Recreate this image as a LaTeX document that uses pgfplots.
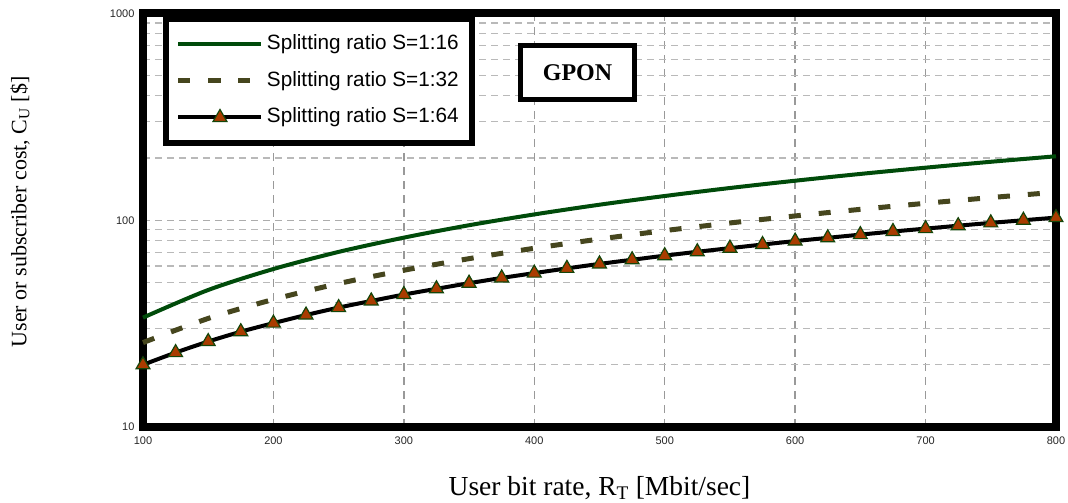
\documentclass[border=0pt]{standalone}
\usepackage{fontspec}
\setmainfont{Liberation Serif}
\newfontfamily\arial{Liberation Sans}
\usepackage{pgfplots}
\pgfplotsset{compat=1.18}
\definecolor{cgreen}{RGB}{0,75,10}
\definecolor{colive}{RGB}{70,70,30}
\definecolor{cbrown}{RGB}{170,60,0}
\definecolor{cedge}{RGB}{20,70,10}
\begin{document}
\begin{tikzpicture}
\path[use as bounding box] (-143pt,-76pt) rectangle (925pt,427pt);
\begin{axis}[
  scale only axis, width=913pt, height=413.5pt,
  ymode=log, xmin=100, xmax=800, ymin=10, ymax=1000,
  xtick={100,200,...,800},
  ytick={10,100,1000}, yticklabels={10,100,1000},
  minor ytick={20,30,40,50,60,70,80,90,200,300,400,500,600,700,800,900},
  major tick length=0pt, minor tick length=0pt,
  xmajorgrids, ymajorgrids, yminorgrids,
  major x grid style={draw=gray!80, line width=1.4pt, dash pattern=on 8pt off 6pt},
  major y grid style={draw=gray!65, line width=1.4pt, dash pattern=on 7pt off 5pt},
  minor y grid style={draw=gray!55, line width=1.4pt, dash pattern=on 7pt off 5pt},
  axis line style={line width=8pt, line cap=rect, line join=miter},
  /pgf/number format/assume math mode=true,
  tick label style={font=\arial\fontsize{11}{13}\selectfont, text=black!85},
  xticklabel style={yshift=-6pt},
  yticklabel style={xshift=-5pt},
  clip=false,
  xlabel={User bit rate, R\textsubscript{T} [Mbit/sec]},
  ylabel={User or subscriber cost, C\textsubscript{U} [\$]},
  xlabel style={at={(axis description cs:0.5,-0.1475)}, anchor=center, font=\fontsize{27.5}{32}\selectfont},
  ylabel style={at={(axis description cs:-0.1347,0.52)}, anchor=center, font=\fontsize{22}{26}\selectfont},
  legend cell align=left,
  legend image code/.code={\draw[mark repeat=2,mark phase=2,#1] plot coordinates {(0pt,0pt) (41.5pt,0pt) (83pt,0pt)};},
  legend style={at={(axis description cs:0.0219,0.994)}, anchor=north west,
    draw=black, line width=6pt, fill=white, inner xsep=10pt, inner ysep=13pt,
    font=\arial\fontsize{20.7}{24}\selectfont, row sep=11.5pt,
    nodes={inner sep=3pt, text height=15pt, text depth=4pt}},
]
\addplot[cgreen, line width=4pt, smooth] coordinates {
(100,33.8) (150,46.0) (200,58.1) (250,70.3) (300,82.4) (350,94.6) (400,106.7) (450,118.9)
(500,131.0) (550,143.2) (600,155.3) (650,167.5) (700,179.6) (750,191.8) (800,203.9)};
\addlegendentry{Splitting ratio S=1:16}
\addplot[colive, line width=5pt, smooth, dash pattern=on 12pt off 18pt] coordinates {
(100,25.6) (150,33.5) (200,41.4) (250,49.4) (300,57.3) (350,65.2) (400,73.2) (450,81.1)
(500,89.1) (550,97.0) (600,104.9) (650,112.9) (700,120.8) (750,128.7) (800,136.7)};
\addlegendentry{Splitting ratio S=1:32}
\addplot[black, line width=4pt, smooth, mark=triangle*, mark size=8pt,
  mark options={solid, fill=cbrown, draw=cedge, line width=1.2pt}] coordinates {
(100,20.0) (125,22.9) (150,25.9) (175,28.9) (200,31.8) (225,34.8) (250,37.8) (275,40.7)
(300,43.7) (325,46.6) (350,49.6) (375,52.6) (400,55.5) (425,58.5) (450,61.5) (475,64.4)
(500,67.4) (525,70.4) (550,73.3) (575,76.3) (600,79.3) (625,82.2) (650,85.2) (675,88.2)
(700,91.1) (725,94.1) (750,97.1) (775,100.0) (800,103.0)};
\addlegendentry{Splitting ratio S=1:64}
\node[draw=black, line width=5pt, fill=white, minimum width=114pt, minimum height=54pt,
  inner sep=0pt, font=\bfseries\fontsize{24}{28}\selectfont] at (rel axis cs:0.4759,0.8573) {GPON};
\end{axis}
\end{tikzpicture}
\end{document}
